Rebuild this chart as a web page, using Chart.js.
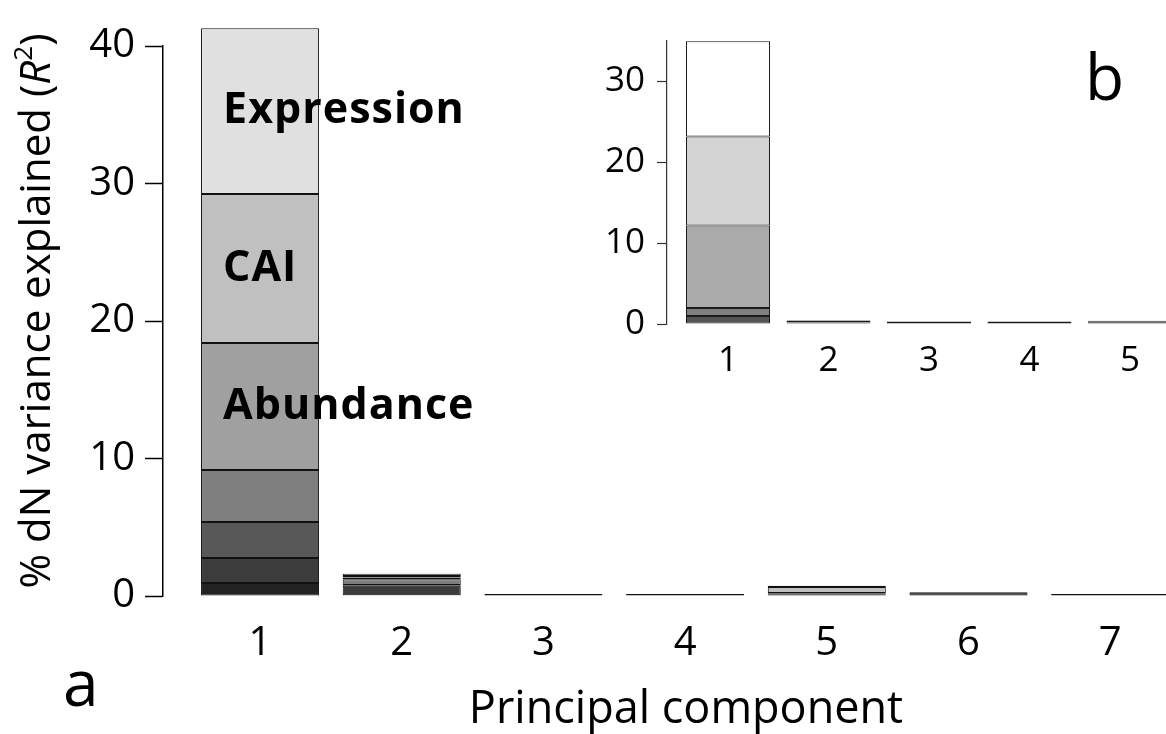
<!DOCTYPE html>
<html>
<head>
<meta charset="utf-8">
<script src="https://cdn.jsdelivr.net/npm/chart.js@4.4.1/dist/chart.umd.min.js"></script>
<style>
  html, body { margin: 0; padding: 0; background: #fff; overflow: hidden; }
  #wrap { position: relative; width: 1166px; height: 734px; }
  #main { position: absolute; left: 0; top: 0; }
  #inset { position: absolute; left: 560px; top: 0; }
</style>
</head>
<body>
<div id="wrap">
  <canvas id="main" width="1166" height="734"></canvas>
  <canvas id="inset" width="606" height="400"></canvas>
</div>
<script>
// panel a: stacked contributions per principal component (bottom layer first)
const components = [1, 2, 3, 4, 5, 6, 7];
const seg1 = [0.95, 0.05, 0.15, 0.15, 0.04, 0.27, 0.15];
const seg2 = [1.81, 0.70, 0, 0, 0.04, 0, 0];
const seg3 = [2.62, 0.05, 0, 0, 0.04, 0, 0];
const seg4 = [3.78, 0.42, 0, 0, 0.04, 0, 0];
const abundance = [9.24, 0.12, 0, 0, 0.05, 0, 0];
const cai = [10.84, 0.12, 0, 0, 0.45, 0, 0];
const expression = [12.06, 0.16, 0, 0, 0.08, 0, 0];
const mainTicks = [0, 10, 20, 30, 40];

// panel b: inset
const insetComponents = [1, 2, 3, 4, 5];
const inset1 = [0.99, 0.18, 0.30, 0.30, 0.22];
const inset2 = [0.99, 0.06, 0, 0, 0.06];
const inset3 = [10.2, 0.12, 0, 0, 0.12];
const inset4 = [11.0, 0.06, 0, 0, 0];
const inset5 = [11.8, 0.04, 0, 0, 0];

const mainLayers = [seg1, seg2, seg3, seg4, abundance, cai, expression];
const mainNames = ['', '', '', '', 'Abundance', 'CAI', 'Expression'];
const mainColors = ['#222222', '#3c3c3c', '#585858', '#7e7e7e', '#a0a0a0', '#c0c0c0', '#e0e0e0'];
const insetLayers = [inset1, inset2, inset3, inset4, inset5];
const insetColors = ['#555555', '#808080', '#aaaaaa', '#d4d4d4', '#ffffff'];

const FONT = "'Open Sans', 'DejaVu Sans', sans-serif";
Chart.defaults.font.family = FONT;
Chart.defaults.color = '#000';

function toPoints(xs, ys) {
  return xs.map((x, i) => ({ x: x, y: ys[i] }));
}

// names written inside bar 1, left aligned from the bar edge
const segmentNames = {
  id: 'segmentNames',
  afterDatasetsDraw(chart) {
    const ctx = chart.ctx;
    ctx.save();
    ctx.font = 'bold 43px ' + FONT;
    ctx.letterSpacing = '1px';
    ctx.fillStyle = '#000';
    ctx.textAlign = 'left';
    ctx.textBaseline = 'middle';
    mainNames.forEach((name, i) => {
      if (!name) return;
      const el = chart.getDatasetMeta(i).data[0];
      ctx.fillText(name, el.x - el.width / 2 + 22, (el.y + el.base) / 2);
    });
    ctx.restore();
  }
};

// axis titles and panel letters
const panelText = {
  id: 'panelText',
  afterDraw(chart) {
    const ctx = chart.ctx;
    ctx.save();
    ctx.fillStyle = '#000';

    // y title with italic R and superscript 2
    const parts = [
      { t: '% dN variance explained (', f: '42px ' + FONT, dy: 0 },
      { t: 'R', f: 'italic 42px ' + FONT, dy: 0 },
      { t: '2', f: '26px ' + FONT, dy: -13 },
      { t: ')', f: '42px ' + FONT, dy: 0 }
    ];
    let total = 0;
    parts.forEach(p => { ctx.font = p.f; p.w = ctx.measureText(p.t).width; total += p.w; });
    ctx.translate(38, 311);
    ctx.rotate(-Math.PI / 2);
    ctx.textBaseline = 'middle';
    ctx.textAlign = 'left';
    let x = -total / 2;
    parts.forEach(p => { ctx.font = p.f; ctx.fillText(p.t, x, p.dy); x += p.w; });
    ctx.setTransform(1, 0, 0, 1, 0, 0);

    ctx.textAlign = 'center';
    ctx.font = '45px ' + FONT;
    ctx.fillText('Principal component', 686, 710);

    ctx.textAlign = 'left';
    ctx.textBaseline = 'alphabetic';
    ctx.font = '64px ' + FONT;
    ctx.fillText('a', 63, 706);
    ctx.fillText('b', 1085, 100);
    ctx.restore();
  }
};

new Chart(document.getElementById('main'), {
  type: 'bar',
  data: {
    datasets: mainLayers.map((vals, i) => ({
      data: toPoints(components, vals),
      backgroundColor: mainColors[i],
      borderColor: '#111',
      borderWidth: 1,
      borderSkipped: false,
      barPercentage: 0.833,
      categoryPercentage: 1,
      clip: false
    }))
  },
  options: {
    responsive: false,
    animation: false,
    layout: { padding: { top: 46, left: 0, right: 0, bottom: 0 } },
    plugins: { legend: { display: false }, tooltip: { enabled: false } },
    scales: {
      x: {
        type: 'linear',
        stacked: true,
        offset: false,
        min: 0.315,
        max: 7.394,
        afterBuildTicks: s => { s.ticks = components.map(v => ({ value: v })); },
        ticks: { font: { size: 40 }, padding: 24, color: '#000' },
        grid: { display: false, drawTicks: false },
        border: { display: false },
        afterFit: s => { s.height = 138; }
      },
      y: {
        stacked: true,
        min: 0,
        max: 40,
        afterBuildTicks: s => { s.ticks = mainTicks.map(v => ({ value: v })); },
        ticks: { font: { size: 40 }, padding: 10, color: '#000' },
        grid: { drawOnChartArea: false, tickLength: 18, tickColor: '#000', tickWidth: 1.5 },
        border: { color: '#000', width: 1.5 },
        afterFit: s => { s.width = 163; }
      }
    }
  },
  plugins: [segmentNames, panelText]
});

new Chart(document.getElementById('inset'), {
  type: 'bar',
  data: {
    datasets: insetLayers.map((vals, i) => ({
      data: toPoints(insetComponents, vals),
      backgroundColor: insetColors[i],
      borderColor: '#1a1a1a',
      borderWidth: 1,
      borderSkipped: false,
      barPercentage: 0.836,
      categoryPercentage: 1
    }))
  },
  options: {
    responsive: false,
    animation: false,
    layout: { padding: { top: 41, left: 0, right: 0, bottom: 0 } },
    plugins: { legend: { display: false }, tooltip: { enabled: false } },
    scales: {
      x: {
        type: 'linear',
        stacked: true,
        offset: false,
        min: 0.393,
        max: 5.358,
        afterBuildTicks: s => { s.ticks = insetComponents.map(v => ({ value: v })); },
        ticks: { font: { size: 35 }, padding: 16, color: '#000' },
        grid: { display: false, drawTicks: false },
        border: { display: false },
        afterFit: s => { s.height = 76; }
      },
      y: {
        stacked: true,
        min: 0,
        max: 35,
        ticks: {
          stepSize: 5,
          font: { size: 35 },
          padding: 12,
          color: '#000',
          callback: v => (v % 10 === 0 ? v : '')
        },
        grid: { drawOnChartArea: false, tickLength: 10, tickColor: '#333', tickWidth: 1.2 },
        border: { color: '#333', width: 1.2 },
        afterFit: s => { s.width = 107; }
      }
    }
  }
});
</script>
</body>
</html>
